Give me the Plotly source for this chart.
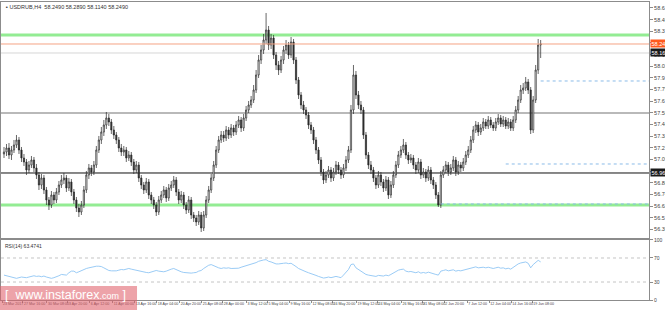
import plotly.graph_objects as go

# ---------------- data ----------------
closes = [57.17, 57.21, 57.14, 57.19, 57.24, 57.29, 57.19, 57.11, 57.07, 56.99, 57.04, 57.09,
          57.01, 56.94, 56.84, 56.91, 56.79, 56.69, 56.64, 56.74, 56.69, 56.77, 56.84, 56.89,
          56.91, 56.81, 56.87, 56.77, 56.69, 56.61, 56.57, 56.64, 56.79, 56.94, 57.01, 56.97,
          57.04, 57.19, 57.29, 57.37, 57.44, 57.51, 57.47, 57.39, 57.34, 57.29, 57.21, 57.17,
          57.19, 57.11, 57.14, 57.07, 56.99, 57.04, 56.91, 56.84, 56.79, 56.87, 56.74, 56.69,
          56.64, 56.57, 56.69, 56.74, 56.79, 56.71, 56.81, 56.84, 56.89, 56.77, 56.69, 56.74,
          56.64, 56.59, 56.69, 56.54, 56.51, 56.47, 56.54, 56.41, 56.54, 56.69, 56.79, 56.91,
          57.04, 57.19, 57.29, 57.34, 57.31, 57.39, 57.34, 57.41, 57.37, 57.44, 57.49, 57.41,
          57.51, 57.59, 57.64, 57.69, 57.79, 57.94, 58.09, 58.19, 58.29, 58.39, 58.24, 58.31,
          58.14, 58.04, 57.99, 58.09, 58.19, 58.24, 58.14, 58.27, 58.09, 57.89, 57.74, 57.64,
          57.59, 57.54, 57.44, 57.39, 57.29, 57.19, 57.09, 56.97, 56.89, 56.94, 56.99, 56.91,
          56.97, 57.04, 56.99, 56.94, 57.01, 57.09, 57.19, 57.59, 57.94, 57.74, 57.64, 57.59,
          57.34, 57.14, 57.04, 56.99, 56.91, 56.84, 56.94, 56.87, 56.81, 56.89, 56.74, 56.84,
          56.94, 57.04, 57.14, 57.19, 57.24, 57.14, 57.09, 57.11, 57.04, 56.99, 57.07, 56.94,
          56.97, 56.91, 56.99, 56.89, 56.84, 56.74, 56.64, 56.94, 56.99, 57.04, 56.97, 57.01,
          57.09, 56.97, 57.04, 57.01, 57.07, 57.14, 57.19, 57.29, 57.39, 57.44, 57.37, 57.41,
          57.47, 57.43, 57.49, 57.44, 57.41, 57.47, 57.51, 57.45, 57.49, 57.43, 57.47, 57.41,
          57.49, 57.59, 57.69, 57.79, 57.81, 57.87, 57.79, 57.39, 57.69, 57.99, 58.24, 58.25]

highs = [57.22, 57.25, 57.26, 57.23, 57.29, 57.34, 57.32, 57.22, 57.15, 57.10, 57.08, 57.13,
         57.12, 57.05, 56.97, 56.95, 56.94, 56.82, 56.72, 56.78, 56.77, 56.81, 56.88, 56.94,
         56.96, 56.94, 56.91, 56.90, 56.80, 56.72, 56.65, 56.68, 56.83, 56.98, 57.05, 57.04,
         57.08, 57.23, 57.33, 57.42, 57.49, 57.57, 57.55, 57.50, 57.43, 57.37, 57.32, 57.25,
         57.23, 57.22, 57.18, 57.17, 57.10, 57.08, 57.07, 56.94, 56.87, 56.91, 56.90, 56.77,
         56.72, 56.67, 56.73, 56.78, 56.83, 56.82, 56.85, 56.88, 56.93, 56.92, 56.80, 56.78,
         56.77, 56.67, 56.73, 56.72, 56.57, 56.54, 56.58, 56.57, 56.58, 56.73, 56.83, 56.95,
         57.08, 57.23, 57.33, 57.38, 57.38, 57.43, 57.42, 57.45, 57.44, 57.48, 57.53, 57.52,
         57.55, 57.63, 57.68, 57.73, 57.84, 57.99, 58.14, 58.24, 58.35, 58.56, 58.43, 58.35,
         58.34, 58.17, 58.08, 58.13, 58.23, 58.29, 58.27, 58.32, 58.30, 58.12, 57.92, 57.77,
         57.68, 57.62, 57.57, 57.47, 57.42, 57.32, 57.22, 57.12, 57.00, 56.98, 57.03, 57.02,
         57.01, 57.08, 57.07, 57.02, 57.05, 57.13, 57.23, 57.64, 58.04, 57.98, 57.78, 57.68,
         57.62, 57.37, 57.17, 57.08, 57.02, 56.94, 56.98, 56.97, 56.90, 56.93, 56.92, 56.88,
         56.98, 57.08, 57.18, 57.23, 57.30, 57.27, 57.17, 57.15, 57.14, 57.07, 57.11, 57.10,
         57.01, 57.00, 57.03, 57.02, 56.92, 56.87, 56.77, 56.98, 57.03, 57.08, 57.07, 57.05,
         57.13, 57.12, 57.08, 57.07, 57.11, 57.18, 57.23, 57.33, 57.43, 57.48, 57.47, 57.45,
         57.51, 57.50, 57.53, 57.52, 57.47, 57.51, 57.55, 57.54, 57.53, 57.52, 57.51, 57.50,
         57.53, 57.63, 57.73, 57.84, 57.86, 57.92, 57.90, 57.82, 57.73, 58.04, 58.30, 58.29]

lows = [57.11, 57.13, 57.10, 57.09, 57.16, 57.21, 57.15, 57.07, 57.03, 56.94, 56.96, 57.01,
        56.97, 56.90, 56.79, 56.80, 56.75, 56.64, 56.59, 56.61, 56.65, 56.66, 56.74, 56.81,
        56.85, 56.77, 56.78, 56.73, 56.65, 56.57, 56.52, 56.54, 56.61, 56.76, 56.90, 56.93,
        56.94, 57.01, 57.16, 57.25, 57.33, 57.40, 57.43, 57.35, 57.30, 57.25, 57.17, 57.13,
        57.13, 57.07, 57.08, 57.03, 56.95, 56.96, 56.87, 56.80, 56.75, 56.76, 56.70, 56.65,
        56.60, 56.53, 56.54, 56.66, 56.71, 56.67, 56.68, 56.78, 56.81, 56.73, 56.65, 56.66,
        56.60, 56.55, 56.56, 56.50, 56.47, 56.43, 56.44, 56.37, 56.38, 56.51, 56.66, 56.76,
        56.88, 57.01, 57.16, 57.26, 57.27, 57.28, 57.30, 57.31, 57.33, 57.34, 57.41, 57.37,
        57.38, 57.48, 57.56, 57.61, 57.66, 57.76, 57.91, 58.05, 58.15, 58.25, 58.19, 58.20,
        58.10, 57.99, 57.94, 57.96, 58.05, 58.15, 58.10, 58.11, 58.05, 57.85, 57.70, 57.60,
        57.55, 57.50, 57.40, 57.35, 57.25, 57.15, 57.05, 56.93, 56.85, 56.86, 56.91, 56.87,
        56.88, 56.94, 56.95, 56.90, 56.91, 56.98, 57.06, 57.16, 57.55, 57.70, 57.60, 57.55,
        57.30, 57.10, 57.00, 56.95, 56.87, 56.80, 56.81, 56.83, 56.77, 56.78, 56.70, 56.71,
        56.81, 56.91, 57.01, 57.11, 57.16, 57.10, 57.05, 57.06, 57.00, 56.95, 56.96, 56.90,
        56.91, 56.87, 56.88, 56.85, 56.80, 56.70, 56.62, 56.61, 56.91, 56.96, 56.93, 56.94,
        56.98, 56.93, 56.94, 56.97, 56.98, 57.04, 57.11, 57.16, 57.26, 57.36, 57.33, 57.34,
        57.38, 57.40, 57.40, 57.41, 57.38, 57.38, 57.44, 57.42, 57.42, 57.40, 57.40, 57.38,
        57.38, 57.46, 57.56, 57.66, 57.75, 57.78, 57.75, 57.35, 57.36, 57.66, 57.95, 58.11]

first_open = 57.15
opens = [first_open] + closes[:-1]

rsi = [41.5, 40.4, 39.9, 39.3, 37.2, 36.1, 37.2, 38.3, 37.7, 37.2, 38.3, 39.3,
       40.4, 39.3, 39.9, 38.8, 39.9, 38.3, 37.2, 36.1, 37.2, 38.3, 40.4, 42.6,
       42.6, 41.5, 45.4, 48.1, 48.1, 45.4, 47.0, 49.2, 50.8, 52.5, 53.6, 54.6,
       55.7, 56.3, 56.3, 55.7, 53.6, 50.8, 49.2, 48.6, 48.1, 48.6, 49.7, 50.8,
       50.3, 51.4, 52.5, 51.4, 50.3, 49.2, 48.1, 47.0, 47.0, 45.9, 45.4, 46.4,
       48.1, 49.2, 48.1, 47.0, 47.0, 48.1, 50.3, 51.4, 52.5, 50.3, 48.1, 47.0,
       45.9, 45.4, 45.4, 44.8, 45.4, 45.9, 48.1, 49.2, 52.5, 55.7, 57.9, 59.0,
       56.8, 54.6, 53.6, 52.5, 53.6, 53.0, 53.6, 52.5, 52.5, 53.6, 53.0, 54.6,
       55.7, 56.8, 57.9, 59.0, 60.1, 62.3, 64.5, 66.1, 66.7, 67.2, 64.5, 63.4,
       61.7, 60.1, 60.1, 61.2, 61.2, 61.7, 60.6, 61.2, 59.0, 55.7, 52.5, 50.3,
       48.1, 47.0, 45.4, 44.3, 42.6, 41.0, 39.3, 37.7, 36.6, 37.2, 38.3, 37.2,
       38.3, 39.3, 38.3, 37.2, 41.5, 45.4, 50.8, 59.0, 60.1, 53.6, 50.8, 48.1,
       44.8, 42.6, 41.5, 41.0, 39.9, 39.3, 41.0, 40.4, 39.9, 41.5, 40.4, 42.6,
       45.4, 48.1, 49.7, 50.8, 51.4, 48.1, 47.0, 47.5, 45.9, 45.4, 47.0, 44.8,
       45.9, 44.8, 46.4, 44.8, 43.7, 42.6, 41.5, 48.1, 49.2, 50.3, 48.6, 49.2,
       50.3, 48.1, 49.2, 48.6, 49.7, 50.8, 51.4, 53.6, 54.6, 55.2, 53.6, 54.1,
       54.6, 53.6, 54.6, 53.6, 52.5, 53.6, 54.6, 53.0, 53.6, 51.9, 53.0, 51.4,
       54.6, 57.9, 60.1, 61.7, 62.3, 63.4, 61.2, 53.6, 59.0, 63.4, 66.1, 63.47]

bars = list(range(len(closes)))

price_ticks = [58.6100, 58.4935, 58.3770, 58.2605, 58.1440, 58.0275, 57.9110, 57.7945,
               57.6780, 57.5615, 57.4450, 57.3285, 57.2120, 57.0955, 56.9790, 56.8625,
               56.7460, 56.6295, 56.5130, 56.3965]
price_tick_text = ["%.4f" % v for v in price_ticks]

rsi_ticks = [100, 70, 30, 0]
rsi_levels = [70, 30]

date_labels = ["23 Mar 2017", "27 Mar 16:00", "30 Mar 08:00", "3 Apr 20:00", "6 Apr 12:00",
               "11 Apr 00:00", "13 Apr 16:00", "18 Apr 04:00", "20 Apr 20:00", "25 Apr 08:00",
               "28 Apr 00:00", "3 May 12:00", "5 May 04:00", "9 May 16:00", "12 May 08:00",
               "16 May 20:00", "19 May 12:00", "24 May 04:00", "26 May 16:00", "31 May 08:00",
               "2 Jun 20:00", "7 Jun 12:00", "12 Jun 04:00", "14 Jun 16:00", "19 Jun 08:00"]
date_tick_bars = [-0.8, 7.6, 17.2, 25.6, 34.4, 43.6, 52.4, 61.2, 70.4, 79.2, 87.6, 97.2,
                  105.6, 114.4, 123.2, 131.6, 141.2, 149.6, 159.2, 167.6, 176.4, 185.6,
                  194.4, 203.2, 211.6]

# horizontal levels on the price chart
green_levels = [58.34, 56.64]
bid_level = 58.25
ask_level = 58.16
gray_level = 57.56
black_level = 56.96
dotted_levels = [(215, 57.88), (201, 57.05), (175, 56.65)]  # (start bar, price)

title_text = "USDRUB,H4  58.2490 58.2890 58.1140 58.2490"
rsi_text = "RSI(14) 63.4741"

# ---------------- figure ----------------
X_RANGE = [-1.2, 258.4]
FONT = "Liberation Sans"

fig = go.Figure()
fig.add_trace(go.Candlestick(
    x=bars, open=opens, high=highs, low=lows, close=closes,
    xaxis="x", yaxis="y",
    increasing=dict(line=dict(color="#262626", width=0.7), fillcolor="#ffffff"),
    decreasing=dict(line=dict(color="#262626", width=0.7), fillcolor="#303030"),
    whiskerwidth=0, showlegend=False, hoverinfo="skip"))
fig.add_trace(go.Scatter(
    x=bars, y=rsi, xaxis="x2", yaxis="y2", mode="lines",
    line=dict(color="#8ec5f4", width=0.9), showlegend=False, hoverinfo="skip"))

shapes = []
for lv in green_levels:
    shapes.append(dict(type="line", xref="x", yref="y", x0=X_RANGE[0], x1=X_RANGE[1],
                       y0=lv, y1=lv, line=dict(color="#93ec93", width=3), layer="below"))
shapes.append(dict(type="line", xref="x", yref="y", x0=X_RANGE[0], x1=X_RANGE[1],
                   y0=bid_level, y1=bid_level, line=dict(color="#f5a385", width=1)))
shapes.append(dict(type="line", xref="x", yref="y", x0=X_RANGE[0], x1=X_RANGE[1],
                   y0=ask_level, y1=ask_level, line=dict(color="#d6d6d6", width=1), layer="below"))
shapes.append(dict(type="line", xref="x", yref="y", x0=X_RANGE[0], x1=X_RANGE[1],
                   y0=gray_level, y1=gray_level, line=dict(color="#b9b9b9", width=2), layer="below"))
shapes.append(dict(type="line", xref="x", yref="y", x0=X_RANGE[0], x1=X_RANGE[1],
                   y0=black_level, y1=black_level, line=dict(color="#111111", width=1), layer="below"))
for start, lv in dotted_levels:
    shapes.append(dict(type="line", xref="x", yref="y", x0=start, x1=X_RANGE[1],
                       y0=lv, y1=lv, line=dict(color="#8bbbe8", width=1, dash="dot")))
for lv in rsi_levels:
    shapes.append(dict(type="line", xref="x2", yref="y2", x0=X_RANGE[0], x1=X_RANGE[1],
                       y0=lv, y1=lv, line=dict(color="#c4c4c4", width=1, dash="dot")))
# watermark box
shapes.append(dict(type="rect", xref="paper", yref="paper", x0=-0.01, x1=0.2099,
                   y0=-0.04, y1=0.047, fillcolor="rgba(224,96,106,0.58)",
                   line=dict(width=0), layer="above"))

annotations = [
    dict(xref="paper", yref="paper", x=0, y=1, xanchor="left", yanchor="top",
         xshift=3, yshift=-1, text="\u25aa " + title_text, showarrow=False,
         font=dict(family=FONT, size=5.5, color="#333333")),
    dict(xref="paper", yref="paper", x=0, y=0.2007, xanchor="left", yanchor="top",
         xshift=2, yshift=-1, text=rsi_text, showarrow=False,
         font=dict(family=FONT, size=5, color="#333333")),
    dict(xref="paper", yref="y", x=1, y=bid_level, xanchor="left", yanchor="middle",
         xshift=1, text="58.2490", showarrow=False, bgcolor="#ff5a1e", borderpad=0.5,
         font=dict(family=FONT, size=5.5, color="#ffffff")),
    dict(xref="paper", yref="y", x=1, y=ask_level, xanchor="left", yanchor="middle",
         xshift=1, text="58.1600", showarrow=False, bgcolor="#1a1a1a", borderpad=0.5,
         font=dict(family=FONT, size=5.5, color="#ffffff")),
    dict(xref="paper", yref="y", x=1, y=black_level, xanchor="left", yanchor="middle",
         xshift=1, text="56.9600", showarrow=False, bgcolor="#1a1a1a", borderpad=0.5,
         font=dict(family=FONT, size=5.5, color="#ffffff")),
    dict(xref="paper", yref="paper", x=0.1, y=0.018, xanchor="center", yanchor="middle",
         text="[  www.instaforex<span style='font-size:9px'>.com</span> ]", showarrow=False,
         font=dict(family=FONT, size=12.5, color="#ffffff")),
]

axis_common = dict(showgrid=False, zeroline=False, showline=True, linecolor="#8c8c8c",
                   linewidth=1, mirror=True, fixedrange=True)

fig.update_layout(
    width=665, height=310,
    margin=dict(l=1, r=16, t=1, b=10, autoexpand=False),
    paper_bgcolor="#ffffff", plot_bgcolor="#ffffff",
    showlegend=False,
    xaxis=dict(domain=[0, 1], range=X_RANGE, anchor="y", showticklabels=False,
               rangeslider=dict(visible=False), ticks="", **axis_common),
    yaxis=dict(domain=[0.2074, 0.9967], range=[56.31, 58.67], side="right", anchor="x",
               tickmode="array", tickvals=price_ticks, ticktext=price_tick_text,
               ticks="outside", ticklen=3, tickcolor="#8c8c8c",
               tickfont=dict(family=FONT, size=5.5, color="#444444"), **axis_common),
    xaxis2=dict(domain=[0, 1], range=X_RANGE, anchor="y2", matches="x",
                tickmode="array", tickvals=date_tick_bars, ticktext=date_labels,
                ticks="outside", ticklen=2, tickcolor="#8c8c8c", tickangle=0,
                ticklabelposition="outside right",
                tickfont=dict(family=FONT, size=3.6, color="#444444"), **axis_common),
    yaxis2=dict(domain=[0, 0.2007], range=[0, 100], side="right", anchor="x2",
                tickmode="array", tickvals=rsi_ticks, ticktext=[str(v) for v in rsi_ticks],
                ticks="outside", ticklen=3, tickcolor="#8c8c8c",
                tickfont=dict(family=FONT, size=5, color="#444444"), **axis_common),
    shapes=shapes,
    annotations=annotations,
)

fig.write_html("out.html")
